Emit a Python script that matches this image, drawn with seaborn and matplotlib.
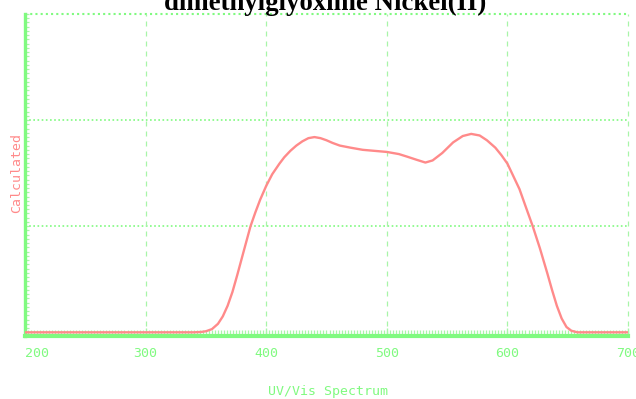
import numpy as np
import pandas as pd
import matplotlib
matplotlib.use("Agg")
import matplotlib.pyplot as plt
import seaborn as sns
from matplotlib.ticker import MultipleLocator

# Absorbance trace of dimethylglyoxime nickel(II), read at these wavelengths
wavelength = [200, 340, 346, 350, 355, 360, 364, 368, 372, 376, 381, 387, 391,
              395, 400, 405, 411, 415, 420, 425, 430, 435, 440, 445, 450, 455,
              461, 470, 480, 490, 500, 510, 517, 525, 532, 538, 546, 555, 563,
              570, 577, 583, 590, 595, 600, 605, 610, 615, 621, 627, 633, 637,
              641, 645, 649, 653, 658, 700]
absorbance = [0.0, 0.0, 0.003, 0.01, 0.03, 0.08, 0.15, 0.25, 0.38, 0.54, 0.75,
              1.00, 1.13, 1.25, 1.38, 1.49, 1.59, 1.65, 1.71, 1.76, 1.80, 1.83,
              1.84, 1.83, 1.81, 1.785, 1.76, 1.74, 1.72, 1.71, 1.70, 1.68, 1.655,
              1.625, 1.60, 1.62, 1.69, 1.79, 1.85, 1.87, 1.855, 1.81, 1.74, 1.67,
              1.59, 1.47, 1.35, 1.19, 1.00, 0.79, 0.56, 0.40, 0.25, 0.13, 0.05,
              0.015, 0.0, 0.0]
x_ticks = [200, 300, 400, 500, 600, 700]
y_grid = [1, 2]

title = "dimethylglyoxime Nickel(II)"
x_label = "UV/Vis Spectrum"
y_label = "Calculated"

green = "#80fa80"
grid_green = "#a8f5a8"
red = "#ff8a8a"

sns.set_theme(style="white")
mono = ["DejaVu Sans Mono"]

fig = plt.figure(figsize=(6.36, 3.99), dpi=100)
ax = fig.add_axes([25 / 636, 63.5 / 399, 603 / 636, 321.5 / 399])

df = pd.DataFrame({"wavelength": wavelength, "absorbance": absorbance})

ax.set_xlim(200, 700)
ax.set_ylim(-0.03, 3.0)

# grid: dotted horizontals, dashed verticals
for yv in y_grid:
    ax.axhline(yv, color=green, lw=1.2, ls=(0, (1, 1.5)), zorder=1)
ax.axhline(3.0, color=green, lw=1.5, ls=(0, (1, 1.5)), zorder=1, clip_on=False)
for xv in x_ticks[1:]:
    ax.axvline(xv, color=grid_green, lw=0.9, ls=(0, (4, 4)), zorder=1, clip_on=False)

sns.lineplot(data=df, x="wavelength", y="absorbance", ax=ax, color=red,
             lw=1.7, estimator=None, sort=False, zorder=3)

for side in ("top", "right"):
    ax.spines[side].set_visible(False)
ax.spines["bottom"].set_color(green)
ax.spines["bottom"].set_linewidth(3)
ax.spines["left"].set_color(green)
ax.spines["left"].set_linewidth(2.4)

ax.set_xticks(x_ticks)
ax.set_xticklabels([str(v) for v in x_ticks], family=mono, fontsize=9.5,
                   color=green)
ax.get_xticklabels()[0].set_horizontalalignment("left")
ax.xaxis.set_minor_locator(MultipleLocator(2.5))
ax.tick_params(axis="x", which="major", direction="in", length=6, width=1,
               color=grid_green, pad=8, bottom=True)
ax.tick_params(axis="x", which="minor", direction="in", length=4.5, width=0.9,
               color=grid_green, bottom=True)
ax.set_yticks([])
ax.yaxis.set_minor_locator(MultipleLocator(0.04))
ax.tick_params(axis="y", which="minor", direction="in", length=3, width=0.9,
               color=grid_green, left=True)

ax.set_xlabel("")
ax.set_ylabel("")
fig.text(328 / 636, 1 - 391 / 399, x_label, family=mono, fontsize=9.5,
         color=green, ha="center", va="center")
fig.text(17 / 636, 1 - 173 / 399, y_label, family=mono, fontsize=9.5,
         color=red, rotation=90, ha="center", va="center")
fig.text(325 / 636, 1 - 10 / 399, title, family=["Liberation Serif"],
         fontweight="bold", fontsize=19.3, color="black", ha="center",
         va="baseline")

fig.savefig("out.png", dpi=100)
